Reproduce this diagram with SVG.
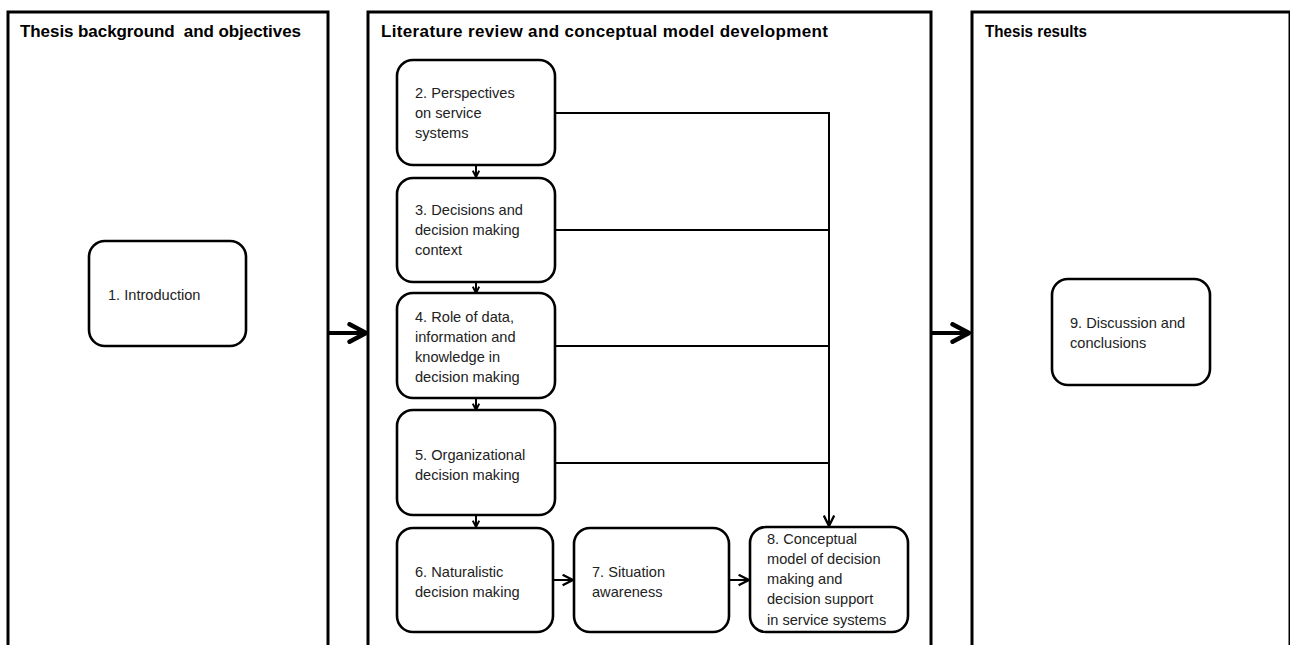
<svg xmlns="http://www.w3.org/2000/svg" width="1290" height="645" viewBox="0 0 1290 645">
  <style>
    .panel { fill: #fff; stroke: #000; stroke-width: 3; }
    .title { font-family: "Liberation Sans", Arial, sans-serif; font-size: 17px; font-weight: bold; fill: #000; }
    .box { fill: #fff; stroke: #000; stroke-width: 2.6; }
    .lbl { font-family: "Liberation Sans", Arial, sans-serif; font-size: 14.6px; fill: #222; }
    .link { fill: none; stroke: #000; stroke-width: 2; }
    .big { fill: none; stroke: #000; stroke-width: 4; }
  </style>
  <defs>
    <marker id="tip" viewBox="0 0 10 10" refX="9" refY="5" markerWidth="13" markerHeight="13" markerUnits="userSpaceOnUse" orient="auto">
      <path d="M1,1 L9,5 L1,9" fill="none" stroke="#000" stroke-width="1.8"/>
    </marker>
    <marker id="tipSmall" viewBox="0 0 10 10" refX="9" refY="5" markerWidth="8" markerHeight="8" markerUnits="userSpaceOnUse" orient="auto">
      <path d="M1,1 L9,5 L1,9" fill="none" stroke="#000" stroke-width="2.4"/>
    </marker>
    <marker id="tipBig" viewBox="0 0 20 20" refX="18" refY="10" markerWidth="22" markerHeight="22" markerUnits="userSpaceOnUse" orient="auto">
      <path d="M3,2 L18,10 L3,18" fill="none" stroke="#000" stroke-width="4" stroke-linecap="round" stroke-linejoin="round"/>
    </marker>
  </defs>

  <rect width="1290" height="645" fill="#fff"/>

  <!-- column panels -->
  <g id="panel-background">
    <rect class="panel" x="8" y="12" width="320" height="700"/>
    <text class="title" x="20" y="37" xml:space="preserve" textLength="281">Thesis background  and objectives</text>
  </g>
  <g id="panel-literature">
    <rect class="panel" x="368" y="12" width="563" height="700"/>
    <text class="title" x="381" y="37" textLength="447">Literature review and conceptual model development</text>
  </g>
  <g id="panel-results">
    <rect class="panel" x="972" y="12" width="318" height="700"/>
    <text class="title" x="985" y="37" textLength="102" lengthAdjust="spacingAndGlyphs">Thesis results</text>
  </g>

  <!-- connectors -->
  <g id="connectors">
    <line class="big" x1="328" y1="333" x2="366" y2="333" marker-end="url(#tipBig)"/>
    <line class="big" x1="931" y1="333" x2="969" y2="333" marker-end="url(#tipBig)"/>

    <line class="link" x1="476" y1="165" x2="476" y2="177" marker-end="url(#tipSmall)"/>
    <line class="link" x1="476" y1="282" x2="476" y2="293" marker-end="url(#tipSmall)"/>
    <line class="link" x1="476" y1="398" x2="476" y2="410" marker-end="url(#tipSmall)"/>
    <line class="link" x1="476" y1="515" x2="476" y2="527" marker-end="url(#tipSmall)"/>

    <line class="link" x1="553" y1="580" x2="573" y2="580" marker-end="url(#tip)"/>
    <line class="link" x1="729" y1="580" x2="749" y2="580" marker-end="url(#tip)"/>

    <polyline class="link" points="555,113 829,113 829,526" marker-end="url(#tip)"/>
    <line class="link" x1="555" y1="230" x2="829" y2="230"/>
    <line class="link" x1="555" y1="346" x2="829" y2="346"/>
    <line class="link" x1="555" y1="463" x2="829" y2="463"/>
  </g>

  <!-- chapter nodes -->
  <g id="node-1">
    <rect class="box" x="89" y="241" width="157" height="105" rx="16"/>
    <text class="lbl" x="108" y="300">1. Introduction</text>
  </g>
  <g id="node-2">
    <rect class="box" x="397" y="60" width="158" height="105" rx="16"/>
    <text class="lbl" x="415" y="98">2. Perspectives</text>
    <text class="lbl" x="415" y="118">on service</text>
    <text class="lbl" x="415" y="138">systems</text>
  </g>
  <g id="node-3">
    <rect class="box" x="397" y="178" width="158" height="104" rx="16"/>
    <text class="lbl" x="415" y="215">3. Decisions and</text>
    <text class="lbl" x="415" y="235">decision making</text>
    <text class="lbl" x="415" y="255">context</text>
  </g>
  <g id="node-4">
    <rect class="box" x="397" y="293" width="158" height="105" rx="16"/>
    <text class="lbl" x="415" y="322">4. Role of data,</text>
    <text class="lbl" x="415" y="342">information and</text>
    <text class="lbl" x="415" y="362">knowledge in</text>
    <text class="lbl" x="415" y="382">decision making</text>
  </g>
  <g id="node-5">
    <rect class="box" x="397" y="410" width="158" height="105" rx="16"/>
    <text class="lbl" x="415" y="460">5. Organizational</text>
    <text class="lbl" x="415" y="480">decision making</text>
  </g>
  <g id="node-6">
    <rect class="box" x="397" y="528" width="156" height="104" rx="16"/>
    <text class="lbl" x="415" y="577">6. Naturalistic</text>
    <text class="lbl" x="415" y="597">decision making</text>
  </g>
  <g id="node-7">
    <rect class="box" x="574" y="528" width="155" height="104" rx="16"/>
    <text class="lbl" x="592" y="577">7. Situation</text>
    <text class="lbl" x="592" y="597">awareness</text>
  </g>
  <g id="node-8">
    <rect class="box" x="750" y="527" width="158" height="105" rx="16"/>
    <text class="lbl" x="767" y="544">8. Conceptual</text>
    <text class="lbl" x="767" y="564">model of decision</text>
    <text class="lbl" x="767" y="584">making and</text>
    <text class="lbl" x="767" y="604">decision support</text>
    <text class="lbl" x="767" y="625">in service systems</text>
  </g>
  <g id="node-9">
    <rect class="box" x="1052" y="279" width="158" height="106" rx="16"/>
    <text class="lbl" x="1070" y="328">9. Discussion and</text>
    <text class="lbl" x="1070" y="348">conclusions</text>
  </g>
</svg>
